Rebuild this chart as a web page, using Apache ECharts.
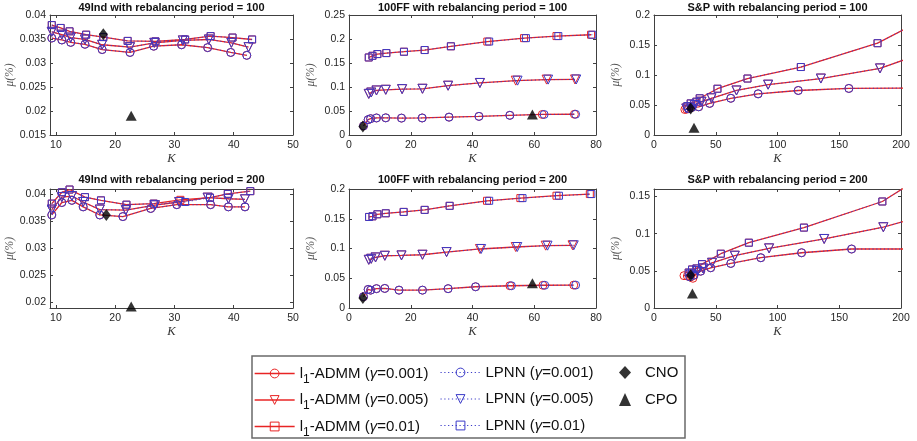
<!DOCTYPE html>
<html>
<head>
<meta charset="utf-8">
<script src="https://cdn.jsdelivr.net/npm/echarts@6/dist/echarts.min.js"></script>
<style>
  html, body { margin: 0; padding: 0; background: #fff; }
  #chart { width: 917px; height: 441px; }
</style>
</head>
<body>
<div id="chart"></div>
<script>
// ---------- data: [K, mu(%)] pairs ----------
// 49Ind, rebalancing period = 100
const ind100Admm001 = [[9.3,0.0352],[11.0,0.0348],[12.5,0.0343],[14.9,0.0339],[17.8,0.0328],[22.5,0.0322],[26.5,0.0335],[31.2,0.0338],[35.6,0.0332],[39.5,0.0322],[42.2,0.0316]];
const ind100Admm005 = [[9.3,0.0365],[11.0,0.0359],[12.5,0.0353],[14.9,0.0349],[17.8,0.0338],[22.5,0.0333],[26.6,0.0342],[31.4,0.0347],[35.8,0.0349],[39.6,0.0342],[42.5,0.0333]];
const ind100Admm01  = [[9.3,0.0379],[10.8,0.0373],[12.3,0.0366],[15.1,0.0359],[18.0,0.0354],[22.1,0.0346],[26.8,0.0345],[31.8,0.0349],[36.1,0.0356],[39.8,0.0353],[43.1,0.0349]];
const ind100Lpnn001 = [[9.3,0.0352],[11.0,0.0348],[12.5,0.0343],[14.9,0.0339],[17.8,0.0328],[22.5,0.0322],[26.5,0.0335],[31.2,0.0338],[35.6,0.0332],[39.5,0.0322],[42.2,0.0316]];
const ind100Lpnn005 = [[9.3,0.0365],[11.0,0.0359],[12.5,0.0353],[14.9,0.0349],[17.8,0.0338],[22.5,0.0333],[26.6,0.0342],[31.4,0.0347],[35.8,0.0349],[39.6,0.0342],[42.5,0.0333]];
const ind100Lpnn01  = [[9.3,0.0379],[10.8,0.0373],[12.3,0.0366],[15.1,0.0359],[18.0,0.0354],[22.1,0.0346],[26.8,0.0345],[31.8,0.0349],[36.1,0.0356],[39.8,0.0353],[43.1,0.0349]];
const ind100Cno = [[18.0,0.0360]];
const ind100Cpo = [[22.7,0.0190]];

// 100FF, rebalancing period = 100
const ff100Admm001 = [[4.7,0.019],[6.2,0.032],[7.0,0.034],[8.9,0.0355],[11.9,0.0358],[17.0,0.0352],[23.7,0.0355],[32.4,0.0372],[42.1,0.0388],[52.1,0.0410],[62.6,0.0428],[73.0,0.0432]];
const ff100Admm005 = [[6.4,0.0857],[7.2,0.0885],[8.9,0.0928],[11.9,0.0942],[17.2,0.0956],[23.8,0.0963],[32.1,0.1027],[42.4,0.1084],[54.0,0.1133],[64.0,0.1154],[73.2,0.1157]];
const ff100Admm01  = [[6.4,0.1615],[7.6,0.1650],[9.2,0.1686],[12.1,0.1707],[17.8,0.1735],[24.5,0.1770],[33.0,0.1848],[44.8,0.1947],[56.7,0.2018],[67.2,0.2061],[78.4,0.2089]];
const ff100Lpnn001 = [[4.7,0.019],[6.2,0.032],[7.0,0.034],[8.9,0.0355],[11.9,0.0358],[17.0,0.0352],[23.7,0.0355],[32.4,0.0372],[42.1,0.0388],[52.1,0.0410],[63.2,0.0428],[73.4,0.0432]];
const ff100Lpnn005 = [[6.4,0.0857],[7.2,0.0885],[8.9,0.0928],[11.9,0.0942],[17.2,0.0956],[23.8,0.0963],[32.1,0.1027],[42.4,0.1084],[54.6,0.1133],[64.5,0.1154],[73.6,0.1157]];
const ff100Lpnn01  = [[6.4,0.1615],[7.6,0.1650],[9.2,0.1686],[12.1,0.1707],[17.8,0.1735],[24.5,0.1770],[33.0,0.1848],[45.4,0.1947],[57.3,0.2018],[67.8,0.2061],[78.8,0.2089]];
const ff100Cno = [[4.5,0.0177]];
const ff100Cpo = [[59.4,0.0425]];

// S&P, rebalancing period = 100
const sp100Admm001 = [[25.0,0.0425],[26.5,0.0432],[28.0,0.0440],[30.8,0.0460],[36.2,0.0470],[45.1,0.0527],[62.2,0.0612],[84.3,0.0686],[116.8,0.0742],[157.8,0.0776],[235,0.0786]];
const sp100Admm005 = [[26.2,0.0442],[33.0,0.0499],[38.4,0.0555],[46.5,0.0612],[66.8,0.0742],[92.4,0.0839],[135.1,0.0941],[183.0,0.1110],[230,0.1455]];
const sp100Admm01  = [[27.0,0.0482],[29.7,0.0527],[34.3,0.0555],[37.0,0.0612],[51.4,0.0771],[75.7,0.0941],[118.9,0.1133],[181.0,0.1530],[230,0.2055]];
const sp100Lpnn001 = [[28.0,0.0440],[30.8,0.0460],[36.2,0.0470],[45.1,0.0527],[62.2,0.0612],[84.3,0.0686],[116.8,0.0742],[157.8,0.0776],[235,0.0786]];
const sp100Lpnn005 = [[26.2,0.0442],[33.0,0.0499],[38.4,0.0555],[46.5,0.0612],[66.8,0.0742],[92.4,0.0839],[135.1,0.0941],[183.0,0.1110],[230,0.1455]];
const sp100Lpnn01  = [[27.0,0.0482],[29.7,0.0527],[34.3,0.0555],[37.0,0.0612],[51.4,0.0771],[75.7,0.0941],[118.9,0.1133],[181.0,0.1530],[230,0.2055]];
const sp100Cno = [[29.7,0.0442]];
const sp100Cpo = [[32.4,0.0119]];

// 49Ind, rebalancing period = 200
const ind200Admm001 = [[9.3,0.0362],[11.0,0.0385],[12.7,0.0389],[14.6,0.0377],[17.4,0.0362],[21.3,0.0359],[26.0,0.0374],[30.4,0.0381],[36.1,0.0381],[39.1,0.0377],[41.9,0.0377]];
const ind200Admm005 = [[9.3,0.0372],[11.0,0.0395],[12.7,0.0397],[14.6,0.0386],[17.4,0.0372],[21.8,0.0371],[26.7,0.0380],[30.8,0.0386],[35.6,0.0394],[39.1,0.0392],[41.9,0.0391]];
const ind200Admm01  = [[9.3,0.0383],[11.0,0.0404],[12.3,0.0409],[14.9,0.0395],[17.6,0.0389],[21.9,0.0381],[26.5,0.0383],[31.0,0.0390],[36.0,0.0394],[39.0,0.0401],[42.8,0.0406]];
const ind200Lpnn001 = [[9.3,0.0362],[11.0,0.0385],[12.7,0.0389],[14.6,0.0377],[17.4,0.0362],[21.3,0.0359],[26.0,0.0374],[30.4,0.0381],[36.1,0.0381],[39.1,0.0377],[41.9,0.0377]];
const ind200Lpnn005 = [[9.3,0.0372],[11.0,0.0395],[12.7,0.0397],[14.6,0.0386],[17.4,0.0372],[21.8,0.0371],[26.7,0.0380],[30.8,0.0386],[35.6,0.0394],[39.1,0.0392],[41.9,0.0391]];
const ind200Lpnn01  = [[9.3,0.0383],[11.0,0.0404],[12.3,0.0409],[14.9,0.0395],[17.6,0.0389],[21.9,0.0381],[26.5,0.0383],[31.8,0.0386],[36.0,0.0394],[39.0,0.0401],[42.8,0.0406]];
const ind200Cno = [[18.5,0.0362]];
const ind200Cpo = [[22.7,0.0193]];

// 100FF, rebalancing period = 200
const ff200Admm001 = [[4.7,0.019],[6.2,0.0312],[7.0,0.0300],[8.9,0.0325],[11.6,0.0329],[16.2,0.0300],[23.8,0.0300],[32.1,0.0325],[41.0,0.0357],[52.1,0.0374],[62.8,0.0382],[72.8,0.0385]];
const ff200Admm005 = [[6.4,0.0810],[7.2,0.0827],[8.6,0.0850],[11.6,0.0878],[17.0,0.0884],[23.8,0.0895],[31.6,0.0940],[42.4,0.0992],[54.0,0.1025],[63.7,0.1048],[72.4,0.1054]];
const ff200Admm01  = [[6.5,0.1530],[7.6,0.1541],[9.2,0.1575],[11.9,0.1592],[17.7,0.1615],[24.5,0.1649],[32.6,0.1717],[44.7,0.1802],[55.5,0.1847],[67.2,0.1887],[78.0,0.1915]];
const ff200Lpnn001 = [[4.7,0.019],[6.2,0.0312],[7.0,0.0300],[8.9,0.0325],[11.6,0.0329],[16.2,0.0300],[23.8,0.0300],[32.1,0.0325],[41.0,0.0357],[52.6,0.0374],[63.4,0.0382],[73.4,0.0385]];
const ff200Lpnn005 = [[6.4,0.0810],[7.2,0.0827],[8.6,0.0850],[11.6,0.0878],[17.0,0.0884],[23.8,0.0895],[31.6,0.0940],[42.8,0.0992],[54.5,0.1025],[64.3,0.1048],[72.8,0.1054]];
const ff200Lpnn01  = [[6.5,0.1530],[7.6,0.1541],[9.2,0.1575],[11.9,0.1592],[17.7,0.1615],[24.5,0.1649],[32.6,0.1717],[45.4,0.1802],[56.2,0.1847],[68.0,0.1887],[78.5,0.1915]];
const ff200Cno = [[4.5,0.0170]];
const ff200Cpo = [[59.4,0.0414]];

// S&P, rebalancing period = 200
const sp200Admm001 = [[24.3,0.0435],[27.0,0.0430],[29.5,0.0415],[31.5,0.0400],[32.4,0.0441],[37.8,0.0495],[45.9,0.0541],[62.2,0.0599],[86.5,0.0676],[119.5,0.0743],[160.0,0.0793],[240,0.0793]];
const sp200Admm005 = [[29.7,0.0450],[35.1,0.0495],[39.7,0.0532],[47.0,0.0608],[65.4,0.0703],[93.2,0.0802],[137.8,0.0928],[185.7,0.1086],[240,0.1341]];
const sp200Admm01  = [[28.1,0.0477],[30.8,0.0518],[34.3,0.0532],[38.9,0.0590],[54.1,0.0730],[76.8,0.0878],[121.4,0.1081],[184.9,0.1432],[240,0.2010]];
const sp200Lpnn001 = [[28.9,0.0419],[32.4,0.0441],[37.8,0.0495],[45.9,0.0541],[62.2,0.0599],[86.5,0.0676],[119.5,0.0743],[160.0,0.0793],[240,0.0793]];
const sp200Lpnn005 = [[29.7,0.0450],[35.1,0.0495],[39.7,0.0532],[47.0,0.0608],[65.4,0.0703],[93.2,0.0802],[137.8,0.0928],[185.7,0.1086],[240,0.1341]];
const sp200Lpnn01  = [[28.1,0.0477],[30.8,0.0518],[34.3,0.0532],[38.9,0.0590],[54.1,0.0730],[76.8,0.0878],[121.4,0.1081],[184.9,0.1432],[240,0.2010]];
const sp200Cno = [[29.7,0.0441]];
const sp200Cpo = [[31.1,0.0194]];

// ---------- tick labels ----------
const indXTicks = [10, 20, 30, 40, 50];
const ffXTicks  = [0, 20, 40, 60, 80];
const spXTicks  = [0, 50, 100, 150, 200];
const ind100YTicks = [0.015, 0.02, 0.025, 0.03, 0.035, 0.04];
const ff100YTicks  = [0, 0.05, 0.1, 0.15, 0.2, 0.25];
const sp100YTicks  = [0, 0.05, 0.1, 0.15, 0.2];
const ind200YTicks = [0.02, 0.025, 0.03, 0.035, 0.04];
const ff200YTicks  = [0, 0.05, 0.1, 0.15, 0.2];
const sp200YTicks  = [0, 0.05, 0.1, 0.15];

// ---------- series names ----------
const admmNames = ['l1-ADMM (γ=0.001)', 'l1-ADMM (γ=0.005)', 'l1-ADMM (γ=0.01)'];
const lpnnNames = ['LPNN (γ=0.001)', 'LPNN (γ=0.005)', 'LPNN (γ=0.01)'];
const refNames  = ['CNO', 'CPO'];

// ---------- styling ----------
const RED = '#e82424';
const BLUE = '#3a3ac8';
const AXIS = '#404040';
const SANS = '"Liberation Sans", Arial, sans-serif';
const SERIF = '"Liberation Serif", "Times New Roman", serif';
const shapes = [
  { symbol: 'circle', size: 8, rotate: 0 },
  { symbol: 'triangle', size: 9, rotate: 180 },
  { symbol: 'rect', size: 7, rotate: 0 }
];

const panels = [
  { title: '49Ind with rebalancing period = 100', left: 50,  top: 15,  w: 243, h: 120, xMin: 9, xMax: 50,  xTicks: indXTicks, yMin: 0.015, yMax: 0.04, yTicks: ind100YTicks,
    admm: [ind100Admm001, ind100Admm005, ind100Admm01], lpnn: [ind100Lpnn001, ind100Lpnn005, ind100Lpnn01], cno: ind100Cno, cpo: ind100Cpo },
  { title: '100FF with rebalancing period = 100', left: 349, top: 15,  w: 247, h: 120, xMin: 0, xMax: 80,  xTicks: ffXTicks,  yMin: 0, yMax: 0.25, yTicks: ff100YTicks,
    admm: [ff100Admm001, ff100Admm005, ff100Admm01], lpnn: [ff100Lpnn001, ff100Lpnn005, ff100Lpnn01], cno: ff100Cno, cpo: ff100Cpo },
  { title: 'S&P with rebalancing period = 100',   left: 654, top: 15,  w: 247, h: 120, xMin: 0, xMax: 200, xTicks: spXTicks,  yMin: 0, yMax: 0.2, yTicks: sp100YTicks,
    admm: [sp100Admm001, sp100Admm005, sp100Admm01], lpnn: [sp100Lpnn001, sp100Lpnn005, sp100Lpnn01], cno: sp100Cno, cpo: sp100Cpo },
  { title: '49Ind with rebalancing period = 200', left: 50,  top: 189, w: 243, h: 119, xMin: 9, xMax: 50,  xTicks: indXTicks, yMin: 0.019, yMax: 0.041, yTicks: ind200YTicks,
    admm: [ind200Admm001, ind200Admm005, ind200Admm01], lpnn: [ind200Lpnn001, ind200Lpnn005, ind200Lpnn01], cno: ind200Cno, cpo: ind200Cpo },
  { title: '100FF with rebalancing period = 200', left: 349, top: 189, w: 247, h: 119, xMin: 0, xMax: 80,  xTicks: ffXTicks,  yMin: 0, yMax: 0.2, yTicks: ff200YTicks,
    admm: [ff200Admm001, ff200Admm005, ff200Admm01], lpnn: [ff200Lpnn001, ff200Lpnn005, ff200Lpnn01], cno: ff200Cno, cpo: ff200Cpo },
  { title: 'S&P with rebalancing period = 200',   left: 654, top: 189, w: 247, h: 119, xMin: 0, xMax: 200, xTicks: spXTicks,  yMin: 0, yMax: 0.16, yTicks: sp200YTicks,
    admm: [sp200Admm001, sp200Admm005, sp200Admm01], lpnn: [sp200Lpnn001, sp200Lpnn005, sp200Lpnn01], cno: sp200Cno, cpo: sp200Cpo }
];

const grids = [], xAxes = [], yAxes = [], series = [], graphics = [];

function boxAxisLine() {
  return { show: true, onZero: false, lineStyle: { color: AXIS, width: 1 } };
}

function lineSeries(name, data, idx, shape, color, dotted, z) {
  return {
    type: 'line', name: name, data: data,
    xAxisIndex: 2 * idx, yAxisIndex: 2 * idx,
    symbol: shape.symbol, symbolSize: shape.size, symbolRotate: shape.rotate,
    showAllSymbol: true, clip: true, silent: true, z: z,
    lineStyle: dotted ? { color: color, width: 1, type: [1.2, 2.6] } : { color: color, width: 1.3, type: 'solid' },
    itemStyle: { color: 'rgba(255,255,255,0)', borderColor: color, borderWidth: 1 },
    emphasis: { disabled: true }
  };
}

panels.forEach((p, i) => {
  grids.push({ left: p.left, top: p.top, width: p.w, height: p.h, containLabel: false });

  // bottom / left axes carry labels, top / right close the box with inner ticks
  xAxes.push({
    gridIndex: i, type: 'value', position: 'bottom', min: p.xMin, max: p.xMax,
    axisLine: boxAxisLine(),
    axisTick: { show: true, inside: true, length: 3, customValues: p.xTicks, lineStyle: { color: AXIS } },
    axisLabel: { customValues: p.xTicks, fontSize: 10.5, color: '#262626', margin: 5, fontFamily: SANS },
    splitLine: { show: false },
    name: 'K', nameLocation: 'middle', nameGap: 15,
    nameTextStyle: { fontFamily: SERIF, fontStyle: 'italic', fontSize: 12.5, color: '#333' }
  });
  xAxes.push({
    gridIndex: i, type: 'value', position: 'top', min: p.xMin, max: p.xMax,
    axisLine: boxAxisLine(),
    axisTick: { show: true, inside: true, length: 3, customValues: p.xTicks, lineStyle: { color: AXIS } },
    axisLabel: { show: false }, splitLine: { show: false }
  });
  yAxes.push({
    gridIndex: i, type: 'value', position: 'left', min: p.yMin, max: p.yMax,
    axisLine: boxAxisLine(),
    axisTick: { show: true, inside: true, length: 3, customValues: p.yTicks, lineStyle: { color: AXIS } },
    axisLabel: { customValues: p.yTicks, fontSize: 10.5, color: '#262626', margin: 4, fontFamily: SANS },
    splitLine: { show: false },
    name: 'μ(%)', nameLocation: 'middle', nameGap: i % 3 === 0 ? 34 : 32,
    nameTextStyle: { fontFamily: SERIF, fontStyle: 'italic', fontSize: 11.5, color: '#555' }
  });
  yAxes.push({
    gridIndex: i, type: 'value', position: 'right', min: p.yMin, max: p.yMax,
    axisLine: boxAxisLine(),
    axisTick: { show: true, inside: true, length: 3, customValues: p.yTicks, lineStyle: { color: AXIS } },
    axisLabel: { show: false }, splitLine: { show: false }
  });

  for (let g = 0; g < 3; g++) {
    series.push(lineSeries(admmNames[g], p.admm[g], i, shapes[g], RED, false, 2));
  }
  for (let g = 0; g < 3; g++) {
    series.push(lineSeries(lpnnNames[g], p.lpnn[g], i, shapes[g], BLUE, true, 3));
  }
  series.push({
    type: 'scatter', name: 'CNO', data: p.cno, xAxisIndex: 2 * i, yAxisIndex: 2 * i,
    symbol: 'diamond', symbolSize: [9, 12], itemStyle: { color: '#000' }, z: 5, silent: true
  });
  series.push({
    type: 'scatter', name: 'CPO', data: p.cpo, xAxisIndex: 2 * i, yAxisIndex: 2 * i,
    symbol: 'triangle', symbolSize: [11, 10], itemStyle: { color: '#000' }, z: 5, silent: true
  });

  graphics.push({
    type: 'text', x: p.left + p.w / 2, y: i < 3 ? 7.5 : 180,
    style: { text: p.title, font: 'bold 11px ' + SANS, fill: '#111', align: 'center', verticalAlign: 'middle' }
  });
});

// legend frame
graphics.push({
  type: 'rect', z: -1,
  shape: { x: 252, y: 356, width: 433, height: 82 },
  style: { fill: '#fff', stroke: '#6a6a6a', lineWidth: 1.5 }
});

const legendText = { fontSize: 15, color: '#111', fontFamily: SANS };
const richTokens = {
  t: { fontSize: 15, lineHeight: 24, fontFamily: SANS, color: '#111' },
  s: { fontSize: 12, lineHeight: 13, verticalAlign: 'bottom', fontFamily: SANS, color: '#111' },
  g: { fontSize: 15, lineHeight: 24, fontFamily: SANS, fontStyle: 'italic', color: '#111' },
  r: { fontSize: 15, lineHeight: 24, fontFamily: SANS, color: '#111', padding: [0, 0, 0, 9] }
};

function legendLabel(name) {
  if (name.startsWith('l1-')) {
    const rest = name.slice(3).split('γ');
    return '{t|l}{s|1}{t|-' + rest[0] + '}{g|γ}{t|' + rest[1] + '}';
  }
  if (name.indexOf('γ') >= 0) {
    const parts = name.split('γ');
    return '{t|' + parts[0] + '}{g|γ}{t|' + parts[1] + '}';
  }
  return '{r|' + name + '}';
}

const legendBase = {
  orient: 'vertical', padding: 0, selectedMode: false,
  formatter: legendLabel,
  textStyle: Object.assign({ rich: richTokens }, legendText),
  itemStyle: { borderWidth: 1 }
};

const option = {
  animation: false,
  backgroundColor: '#fff',
  grid: grids,
  xAxis: xAxes,
  yAxis: yAxes,
  legend: [
    Object.assign({}, legendBase, { data: admmNames, left: 254, top: 366, itemGap: 7, itemWidth: 40, itemHeight: 11, lineStyle: { width: 1.3 } }),
    Object.assign({}, legendBase, { data: lpnnNames, left: 440, top: 365, itemGap: 11.5, itemWidth: 40, itemHeight: 11, lineStyle: { width: 1 } }),
    Object.assign({}, legendBase, { data: refNames, left: 619, top: 365, itemGap: 12, itemWidth: 12, itemHeight: 13, symbolKeepAspect: false })
  ],
  graphic: graphics,
  series: series
};

const chart = echarts.init(document.getElementById('chart'), null, { renderer: 'canvas' });
chart.setOption(option);
</script>
</body>
</html>
